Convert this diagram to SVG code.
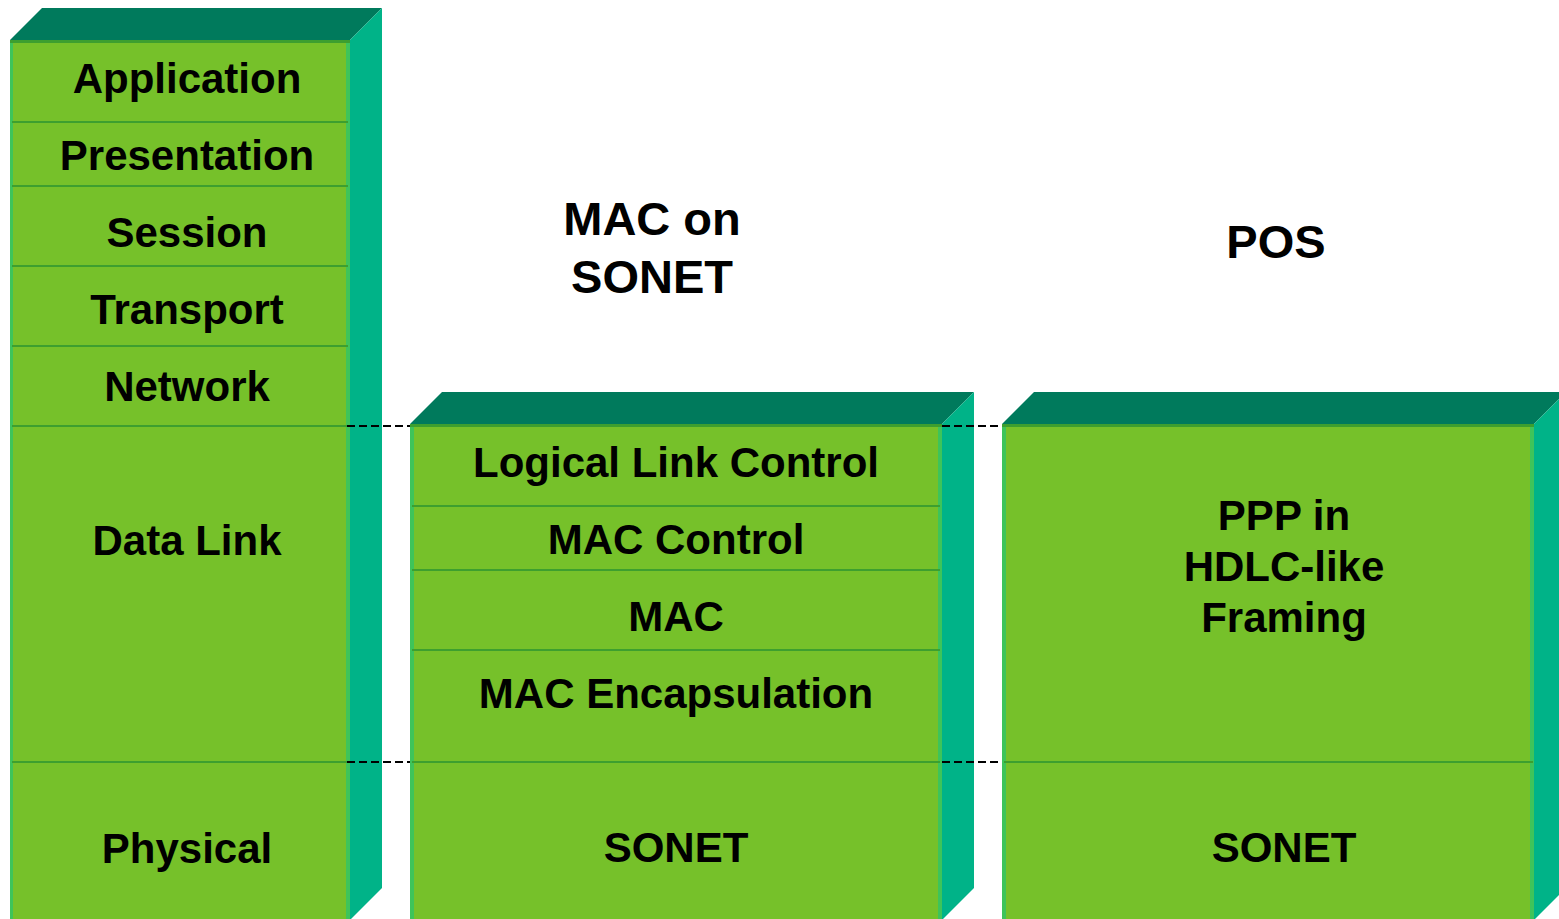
<svg xmlns="http://www.w3.org/2000/svg" width="1559" height="919" viewBox="0 0 1559 919">
  <style>
    .front { fill: #76c12a; }
    .edge { fill: #3ec45a; }
    .topline { fill: #3d9f2f; }
    .top { fill: #007a5c; }
    .side { fill: #00b388; }
    .div { stroke: #3d9f2f; stroke-width: 2; }
    .dash { stroke: #000; stroke-width: 2; stroke-dasharray: 8 4; fill: none; }
    text { font-family: "Liberation Sans", Arial, sans-serif; font-weight: bold; fill: #000; text-anchor: middle; }
    .lbl { font-size: 42px; }
    .ttl { font-size: 47px; }
  </style>

  <g id="osi-stack">
    <polygon class="top" points="10,40 42,8 382,8 350,40"/>
    <polygon class="side" points="350,40 382,8 382,888 350,920"/>
    <rect class="front" x="10" y="40" width="340" height="880"/>
    <rect class="edge" x="10" y="40" width="3" height="880"/>
    <rect class="edge" x="346" y="40" width="4" height="880"/>
    <rect class="topline" x="10" y="40" width="340" height="3"/>
    <line class="div" x1="12" y1="122" x2="348" y2="122"/>
    <line class="div" x1="12" y1="186" x2="348" y2="186"/>
    <line class="div" x1="12" y1="266" x2="348" y2="266"/>
    <line class="div" x1="12" y1="346" x2="348" y2="346"/>
    <line class="div" x1="12" y1="426" x2="348" y2="426"/>
    <line class="div" x1="12" y1="762" x2="348" y2="762"/>
    <g id="osi-application"><text class="lbl" x="187" y="93">Application</text></g>
    <g id="osi-presentation"><text class="lbl" x="187" y="170">Presentation</text></g>
    <g id="osi-session"><text class="lbl" x="187" y="247">Session</text></g>
    <g id="osi-transport"><text class="lbl" x="187" y="324">Transport</text></g>
    <g id="osi-network"><text class="lbl" x="187" y="401">Network</text></g>
    <g id="osi-datalink"><text class="lbl" x="187" y="555">Data Link</text></g>
    <g id="osi-physical"><text class="lbl" x="187" y="863">Physical</text></g>
  </g>

  <g id="mac-on-sonet-title">
    <text class="ttl" x="652" y="235">MAC on</text>
    <text class="ttl" x="652" y="293">SONET</text>
  </g>
  <g id="pos-title">
    <text class="ttl" x="1276" y="258">POS</text>
  </g>

  <g id="mac-stack">
    <polygon class="top" points="410,424 442,392 974,392 942,424"/>
    <polygon class="side" points="942,424 974,392 974,888 942,920"/>
    <rect class="front" x="410" y="424" width="532" height="496"/>
    <rect class="edge" x="410" y="424" width="4" height="496"/>
    <rect class="edge" x="938" y="424" width="4" height="496"/>
    <rect class="topline" x="410" y="424" width="532" height="3"/>
    <line class="div" x1="412" y1="506" x2="940" y2="506"/>
    <line class="div" x1="412" y1="570" x2="940" y2="570"/>
    <line class="div" x1="412" y1="650" x2="940" y2="650"/>
    <line class="div" x1="412" y1="762" x2="940" y2="762"/>
    <g id="mac-llc"><text class="lbl" x="676" y="477">Logical Link Control</text></g>
    <g id="mac-control"><text class="lbl" x="676" y="554">MAC Control</text></g>
    <g id="mac-mac"><text class="lbl" x="676" y="631">MAC</text></g>
    <g id="mac-encap"><text class="lbl" x="676" y="708">MAC Encapsulation</text></g>
    <g id="mac-sonet"><text class="lbl" x="676" y="862">SONET</text></g>
  </g>

  <g id="pos-stack">
    <polygon class="top" points="1002,424 1034,392 1566,392 1534,424"/>
    <polygon class="side" points="1534,424 1566,392 1566,888 1534,920"/>
    <rect class="front" x="1002" y="424" width="532" height="496"/>
    <rect class="edge" x="1002" y="424" width="4" height="496"/>
    <rect class="edge" x="1530" y="424" width="4" height="496"/>
    <rect class="topline" x="1002" y="424" width="532" height="3"/>
    <line class="div" x1="1004" y1="762" x2="1533" y2="762"/>
    <g id="pos-ppp">
      <text class="lbl" x="1284" y="530">PPP in</text>
      <text class="lbl" x="1284" y="581">HDLC-like</text>
      <text class="lbl" x="1284" y="632">Framing</text>
    </g>
    <g id="pos-sonet"><text class="lbl" x="1284" y="862">SONET</text></g>
  </g>

  <g id="connectors">
    <line class="dash" x1="347" y1="426" x2="410" y2="426"/>
    <line class="dash" x1="942" y1="426" x2="1002" y2="426"/>
    <line class="dash" x1="347" y1="762" x2="410" y2="762"/>
    <line class="dash" x1="942" y1="762" x2="1002" y2="762"/>
  </g>
</svg>
